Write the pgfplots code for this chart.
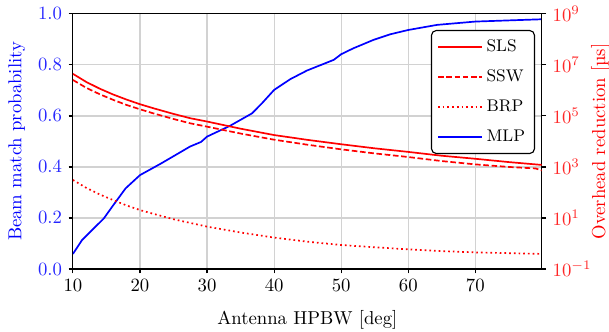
\documentclass[border=0pt]{standalone}
\usepackage{fontspec}
\usepackage{pgfplots}
\pgfplotsset{compat=1.18}
\pgfplotsset{
  common/.style={
    scale only axis, width=249.4bp, height=135.7bp,
    xmin=10, xmax=79.9,
    tick align=outside,
    major tick length=2.3bp,
    axis line style={line width=0.6bp},
    every tick/.style={black, line width=0.6bp},
    tick label style={font=\fontsize{10}{12}\selectfont},
    label style={font=\fontsize{10}{12}\selectfont},
  }
}
\begin{document}
\begin{tikzpicture}
\path[use as bounding box] (-38.8bp,-33.5bp) rectangle (285.2bp,143.1bp);
\begin{axis}[common,
  ymin=0, ymax=1,
  xtick={10,20,30,40,50,60,70},
  ytick={0,0.2,0.4,0.6,0.8,1},
  xtick pos=bottom, ytick pos=left,
  yticklabel style={blue!85!white, /pgf/number format/.cd, fixed, fixed zerofill, precision=1},
  grid=major,
  major grid style={gray!35, line width=0.6bp},
  xlabel={Antenna HPBW [deg]},
  ylabel={Beam match probability},
  ylabel style={blue, at={(axis description cs:-0.1195,0.5)}, anchor=center},
  xlabel style={at={(axis description cs:0.5,-0.2196)}, anchor=base},
]
\addplot[blue, line width=0.9bp] coordinates {
(10,0.059) (11.35,0.113) (13.1,0.159) (14.6,0.198) (15.85,0.244) (17.85,0.316)
(20,0.368) (23.1,0.413) (26.1,0.459) (27.46,0.48) (29.1,0.498) (30,0.519)
(33.4,0.561) (36.7,0.61) (38.2,0.65) (40,0.702) (42.4,0.744) (44.9,0.778)
(48.9,0.82) (50,0.842) (51.8,0.865) (54.8,0.898) (57.3,0.92) (60,0.937)
(64.3,0.957) (70,0.97) (79.9,0.979)
};
\end{axis}
\begin{axis}[common,
  ymode=log, ymin=1e-1, ymax=1e9,
  ytick={1e-1,1e1,1e3,1e5,1e7,1e9},
  minor ytick={},
  axis x line=none, axis y line*=right,
  yticklabel style={red!85!white},
  ylabel={Overhead reduction [µs]},
  ylabel style={red, at={(axis description cs:1.1255,0.5)}, anchor=center, rotate=0},
  legend cell align=left,
  legend style={at={(axis description cs:0.9857,0.937)}, anchor=north east,
    draw=black, line width=0.6bp, rounded corners=2.5bp, fill=white,
    font=\fontsize{9}{11}\selectfont, row sep=4.2bp, inner xsep=3bp, inner ysep=3bp},
  legend image code/.code={\draw[#1] (0bp,0bp) -- (23.4bp,0bp);},
]
\addplot[red, line width=0.9bp] coordinates {
(10,4.47e6) (12,2.14e6) (14,1.17e6) (16,6.92e5) (18,4.37e5) (20,2.88e5)
(22,2.0e5) (25,1.2e5) (27.5,8.13e4) (30,6.03e4) (35,3.16e4) (40,1.78e4)
(45,1.15e4) (50,7.76e3) (55,5.37e3) (60,3.89e3) (65,2.75e3) (70,2.09e3)
(75,1.55e3) (79.9,1.20e3)
};
\addlegendentry{SLS}
\addplot[red, line width=0.9bp, dash pattern=on 3bp off 1.4bp] coordinates {
(10,2.57e6) (12,1.26e6) (14,7.08e5) (16,4.27e5) (18,2.69e5) (20,1.82e5)
(22,1.26e5) (25,7.59e4) (27.5,5.13e4) (30,3.80e4) (35,2.04e4) (40,1.17e4)
(45,7.41e3) (50,4.90e3) (55,3.39e3) (60,2.45e3) (65,1.70e3) (70,1.26e3)
(75,1.0e3) (79,871) (79.9,724)
};
\addlegendentry{SSW}
\addplot[red, line width=0.9bp, dash pattern=on 0.9bp off 1.6bp] coordinates {
(10,309) (12,151) (14,83.2) (16,50.1) (18,30.9) (20,20.4) (22,14.5) (25,8.91)
(30,4.57) (35,2.69) (40,1.70) (45,1.17) (50,0.871) (55,0.708) (60,0.589)
(65,0.501) (70,0.447) (75,0.417) (79.9,0.389)
};
\addlegendentry{BRP}
\addlegendimage{blue, line width=0.9bp}
\addlegendentry{MLP}
\end{axis}
\end{tikzpicture}
\end{document}
